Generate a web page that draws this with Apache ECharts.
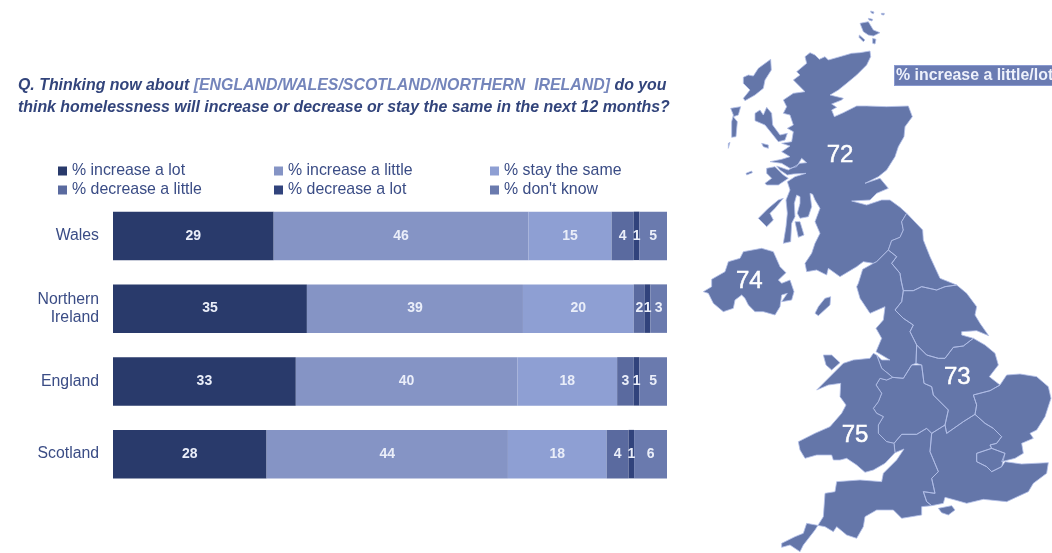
<!DOCTYPE html>
<html>
<head>
<meta charset="utf-8">
<style>html,body{margin:0;padding:0;background:#fff}#chart{width:1052px;height:553px}</style>
<script src="https://cdn.jsdelivr.net/npm/echarts@6/dist/echarts.min.js"></script>
</head>
<body>
<div id="chart"></div>
<script>
// Survey answers by nation
const nations = ['Wales', 'Northern\nIreland', 'England', 'Scotland'];
const increaseLot = [29, 35, 33, 28];
const increaseLittle = [46, 39, 40, 44];
const stayTheSame = [15, 20, 18, 18];
const decreaseLittle = [4, 2, 3, 4];
const decreaseLot = [1, 1, 1, 1];
const dontKnow = [5, 3, 5, 6];

const seriesNames = ['% increase a lot', '% increase a little', '% stay the same',
  '% decrease a little', '% decrease a lot', "% don't know"];
const seriesColors = ['#293a6b', '#8594c5', '#8e9fd3', '#5a6a9f', '#31437c', '#6a7aae'];
const seriesValues = [increaseLot, increaseLittle, stayTheSame, decreaseLittle, decreaseLot, dontKnow];

// Combined "increase a little/lot" share per nation, shown on the map
const mapRegions = ['Scotland', 'Northern Ireland', 'England', 'Wales'];
const mapValues = [72, 74, 73, 75];

// Simplified outlines of the UK nations, in a local drawing unit (3 units = 1 pixel)
const scotlandOutlines = [
  '330,158 345,165 358,178 375,170 385,180 420,170 455,160 480,158 510,153 512,170 500,195 470,225 440,250 415,270 390,285 430,295 425,300 395,312 410,322 395,330 403,350 430,338 470,318 500,318 560,320 625,318 637,350 615,380 612,410 595,440 585,470 560,510 535,530 495,550 540,535 565,565 530,580 510,600 455,603 500,615 545,600 570,600 600,622 620,640 605,665 610,690 600,712 575,722 565,750 530,785 520,790 490,785 470,800 445,815 420,830 385,805 380,825 350,810 320,815 315,790 335,760 345,730 360,700 345,665 360,625 345,600 338,583 330,580 335,620 325,650 300,655 292,640 300,610 300,590 290,585 283,610 285,650 275,670 272,725 250,730 258,680 262,640 258,600 270,570 262,545 285,530 318,520 280,522 262,525 240,510 230,498 265,510 300,490 320,488 305,475 290,500 270,505 245,490 210,485 245,478 270,470 245,455 270,438 245,430 275,425 280,395 262,385 280,375 270,345 250,340 260,320 250,300 280,280 315,275 280,240 300,225 290,215 320,190 315,170',
  '165,340 180,330 190,345 200,322 215,340 218,375 240,405 262,400 255,420 235,425 215,400 195,375 165,362',
  '212,178 214,210 195,240 190,265 165,285 135,302 130,295 150,270 130,250 130,232 145,225 160,228 175,205',
  '92,325 122,320 115,345 100,350 112,365 108,410 95,412 95,365 100,345',
  '85,430 90,427 85,445 82,442',
  '200,505 225,500 250,525 265,535 235,555 200,555 195,550 215,535 200,520',
  '250,595 225,625 210,640 220,660 200,680 175,655 205,625 235,600',
  '285,665 300,665 312,705 295,712',
  '185,430 205,435 205,445 190,440',
  '138,520 155,513 157,518 140,525',
  '480,70 505,65 520,90 540,98 520,108 505,105 490,95',
  '478,105 495,120 490,125 477,112',
  '518,115 528,118 525,132 518,130',
  '512,33 522,36 520,41 513,38',
  '544,40 553,40 552,45 545,44',
  '505,55 518,58 516,63 507,60'
];
const northernIrelandOutlines = [
  '35,838 75,815 85,785 120,775 130,755 185,745 220,755 240,800 258,818 235,840 245,850 270,840 282,875 275,900 245,905 262,880 245,885 240,920 225,945 190,935 165,935 145,915 135,895 125,885 105,900 100,925 70,935 40,910 25,880 10,875 35,860'
];
const walesOutlines = [
  '350,1170 400,1120 430,1090 460,1080 510,1075 520,1060 530,1065 545,1105 578,1132 560,1140 540,1135 528,1155 545,1180 535,1205 520,1225 530,1240 550,1250 535,1275 535,1300 560,1325 582,1330 585,1358 555,1390 520,1410 495,1417 470,1395 440,1375 420,1380 400,1380 395,1365 350,1365 315,1375 300,1350 295,1325 345,1300 390,1280 425,1240 438,1215 420,1190 422,1150 385,1155',
  '370,1065 395,1065 420,1088 395,1110 378,1095'
];
const englandOutlines = [
  // North East
  '620,640 668,690 670,720 690,770 720,835 770,855 735,860 710,870 665,860 640,872 610,872 603,840 600,820 575,790 590,770 565,750 575,722 600,712 610,690 605,665',
  // North West
  '565,750 530,785 520,790 488,808 475,850 470,860 480,895 510,940 555,920 550,960 528,985 545,1015 528,1055 570,1080 545,1080 530,1065 545,1105 578,1132 610,1135 635,1095 648,1090 650,1035 630,995 640,975 610,955 585,930 605,905 610,872 603,840 600,820 575,790 590,770',
  // Yorkshire and the Humber
  '610,872 640,872 665,860 710,870 735,860 770,855 800,880 830,920 825,945 840,970 866,1007 830,992 785,995 785,1005 820,1015 790,1038 760,1042 735,1075 715,1075 680,1065 650,1035 630,995 640,975 610,955 585,930 605,905',
  // East Midlands
  '650,1035 680,1065 715,1075 735,1075 760,1042 790,1038 820,1015 855,1035 885,1060 895,1095 868,1130 900,1155 870,1172 820,1185 830,1215 825,1243 790,1265 740,1300 735,1275 745,1230 700,1185 695,1160 672,1150 665,1095 648,1090',
  // West Midlands
  '578,1132 610,1135 635,1095 665,1095 672,1150 695,1160 700,1185 745,1230 735,1275 695,1300 680,1285 650,1303 605,1303 582,1330 560,1325 535,1300 535,1275 550,1250 530,1240 520,1225 535,1205 545,1180 528,1155 540,1135 560,1140',
  // East of England
  '900,1155 920,1125 960,1122 1010,1130 1045,1160 1053,1195 1035,1250 1010,1290 990,1300 1000,1315 965,1330 970,1360 945,1375 905,1385 915,1360 875,1345 870,1335 890,1330 905,1310 880,1285 855,1270 825,1243 830,1215 820,1185 870,1172',
  // London
  '830,1360 875,1345 915,1360 905,1400 875,1415 860,1400 830,1385',
  // South East
  '825,1243 855,1270 880,1285 905,1310 890,1330 870,1335 875,1345 830,1360 830,1385 860,1400 875,1415 905,1400 915,1385 965,1392 1045,1388 1040,1420 1000,1450 985,1475 920,1505 850,1498 800,1510 765,1500 735,1492 730,1510 695,1517 680,1505 670,1475 705,1480 695,1435 715,1415 690,1355 695,1300 735,1275 740,1300 790,1265',
  // South West
  '695,1300 690,1355 715,1415 695,1435 705,1480 670,1475 680,1505 695,1517 665,1520 665,1545 605,1555 580,1530 530,1530 495,1550 490,1580 470,1615 440,1605 410,1580 400,1595 375,1580 320,1570 310,1600 285,1610 245,1630 245,1642 270,1635 300,1655 310,1635 345,1590 370,1550 375,1480 405,1475 410,1445 480,1440 545,1445 550,1420 590,1380 612,1347 585,1358 582,1330 605,1303 650,1303 680,1285',
  // Isle of Wight
  '715,1525 755,1517 765,1530 745,1545 725,1538',
  // Isle of Man is kept with this group so it shares the same fill
  '375,895 392,890 390,915 355,947 345,940 355,920'
];
const labelAnchors = {
  Scotland: [420, 467], 'Northern Ireland': [148, 845], England: [772, 1132], Wales: [465, 1305]
};

const UNITS_PER_PX = 3;
const MAP_ORIGIN_X = 700;

function toRing(outline) {
  const ring = outline.split(' ').map(p => {
    const [x, y] = p.split(',').map(Number);
    return [x, -y];
  });
  ring.push(ring[0]);
  return ring;
}
const outlinesByRegion = {
  Scotland: scotlandOutlines,
  'Northern Ireland': northernIrelandOutlines,
  England: englandOutlines,
  Wales: walesOutlines
};
const ukGeo = {
  type: 'FeatureCollection',
  features: mapRegions.map(name => ({
    type: 'Feature',
    properties: { name, cp: [labelAnchors[name][0], -labelAnchors[name][1]] },
    geometry: { type: 'MultiPolygon', coordinates: outlinesByRegion[name].map(o => [toRing(o)]) }
  }))
};
echarts.registerMap('uk', ukGeo);

// Pixel box of the map, taken from the extent of its outlines
const allPts = Object.values(outlinesByRegion).flat().flatMap(toRing);
const xs = allPts.map(p => p[0]), ys = allPts.map(p => -p[1]);
const minX = Math.min(...xs), maxX = Math.max(...xs), minY = Math.min(...ys), maxY = Math.max(...ys);

// Each row is drawn as a share of its own total so all bars reach the same length
const rowTotals = nations.map((_, i) => seriesValues.reduce((s, v) => s + v[i], 0));

const FONT = '"Liberation Sans", Arial, sans-serif';
const TEXT_COLOR = '#3a4c85';

const legendSlots = [[58, 163], [274, 163], [490, 163], [58, 182], [274, 182], [490, 182]];

const chart = echarts.init(document.getElementById('chart'), null, { renderer: 'canvas' });
chart.setOption({
  animation: false,
  backgroundColor: '#fff',
  title: {
    left: 18, top: 74.5, padding: 0,
    text: '{d|Q. Thinking now about }{l|[ENGLAND/WALES/SCOTLAND/NORTHERN  IRELAND]}{d| do you}\n{d|think homelessness will increase or decrease or stay the same in the next 12 months?}',
    textStyle: {
      rich: {
        d: { fontFamily: FONT, fontStyle: 'italic', fontWeight: 'bold', fontSize: 15.9, color: '#32447b', lineHeight: 22 },
        l: { fontFamily: FONT, fontStyle: 'italic', fontWeight: 'bold', fontSize: 15.9, color: '#7485bb', lineHeight: 22 }
      }
    }
  },
  legend: seriesNames.map((name, i) => ({
    left: legendSlots[i][0], top: legendSlots[i][1],
    data: [name], icon: 'rect', itemWidth: 9, itemHeight: 9,
    selectedMode: false, padding: 0,
    textStyle: { fontFamily: FONT, fontSize: 15.9, color: TEXT_COLOR }
  })),
  grid: { left: 113, top: 199.5, width: 554, height: 291, containLabel: false },
  xAxis: { type: 'value', min: 0, max: 100, show: false },
  yAxis: {
    type: 'category', inverse: true, data: nations,
    axisLine: { show: false }, axisTick: { show: false },
    axisLabel: { margin: 14, fontFamily: FONT, fontSize: 15.8, lineHeight: 18.5, color: TEXT_COLOR, align: 'right' }
  },
  graphic: [{
    type: 'text', left: 894, top: 65, silent: true,
    style: {
      text: '% increase a little/lot      ',
      font: 'bold 15.9px ' + FONT, fill: '#eef1fb',
      backgroundColor: '#6a7bb2', borderColor: '#8a9ad0', borderWidth: 1,
      padding: [2, 0, 1, 1]
    }
  }],
  series: [
    ...seriesNames.map((name, s) => ({
      type: 'bar', name, stack: 'answers', barWidth: 48.5,
      itemStyle: { color: seriesColors[s] },
      label: {
        show: true, position: 'inside', fontFamily: FONT, fontSize: 14, fontWeight: 'bold', color: '#eaeef9',
        formatter: p => p.data.answer
      },
      data: seriesValues[s].map((v, i) => ({ value: v / rowTotals[i] * 100, answer: v }))
    })),
    {
      type: 'map', map: 'uk', aspectScale: 1, roam: false, silent: true, showLegendSymbol: false,
      left: MAP_ORIGIN_X + minX / UNITS_PER_PX,
      top: minY / UNITS_PER_PX,
      width: (maxX - minX) / UNITS_PER_PX,
      height: (maxY - minY) / UNITS_PER_PX,
      itemStyle: { areaColor: '#6476a9', borderColor: '#b4c0e8', borderWidth: 0.8 },
      label: {
        show: true, position: 'inside', verticalAlign: 'middle', formatter: '{c}',
        fontFamily: FONT, fontSize: 24, color: '#fff', textBorderColor: '#fff', textBorderWidth: 0.5
      },
      emphasis: { disabled: true },
      data: mapRegions.map((name, i) => ({ name, value: mapValues[i] }))
    }
  ]
});
</script>
</body>
</html>
